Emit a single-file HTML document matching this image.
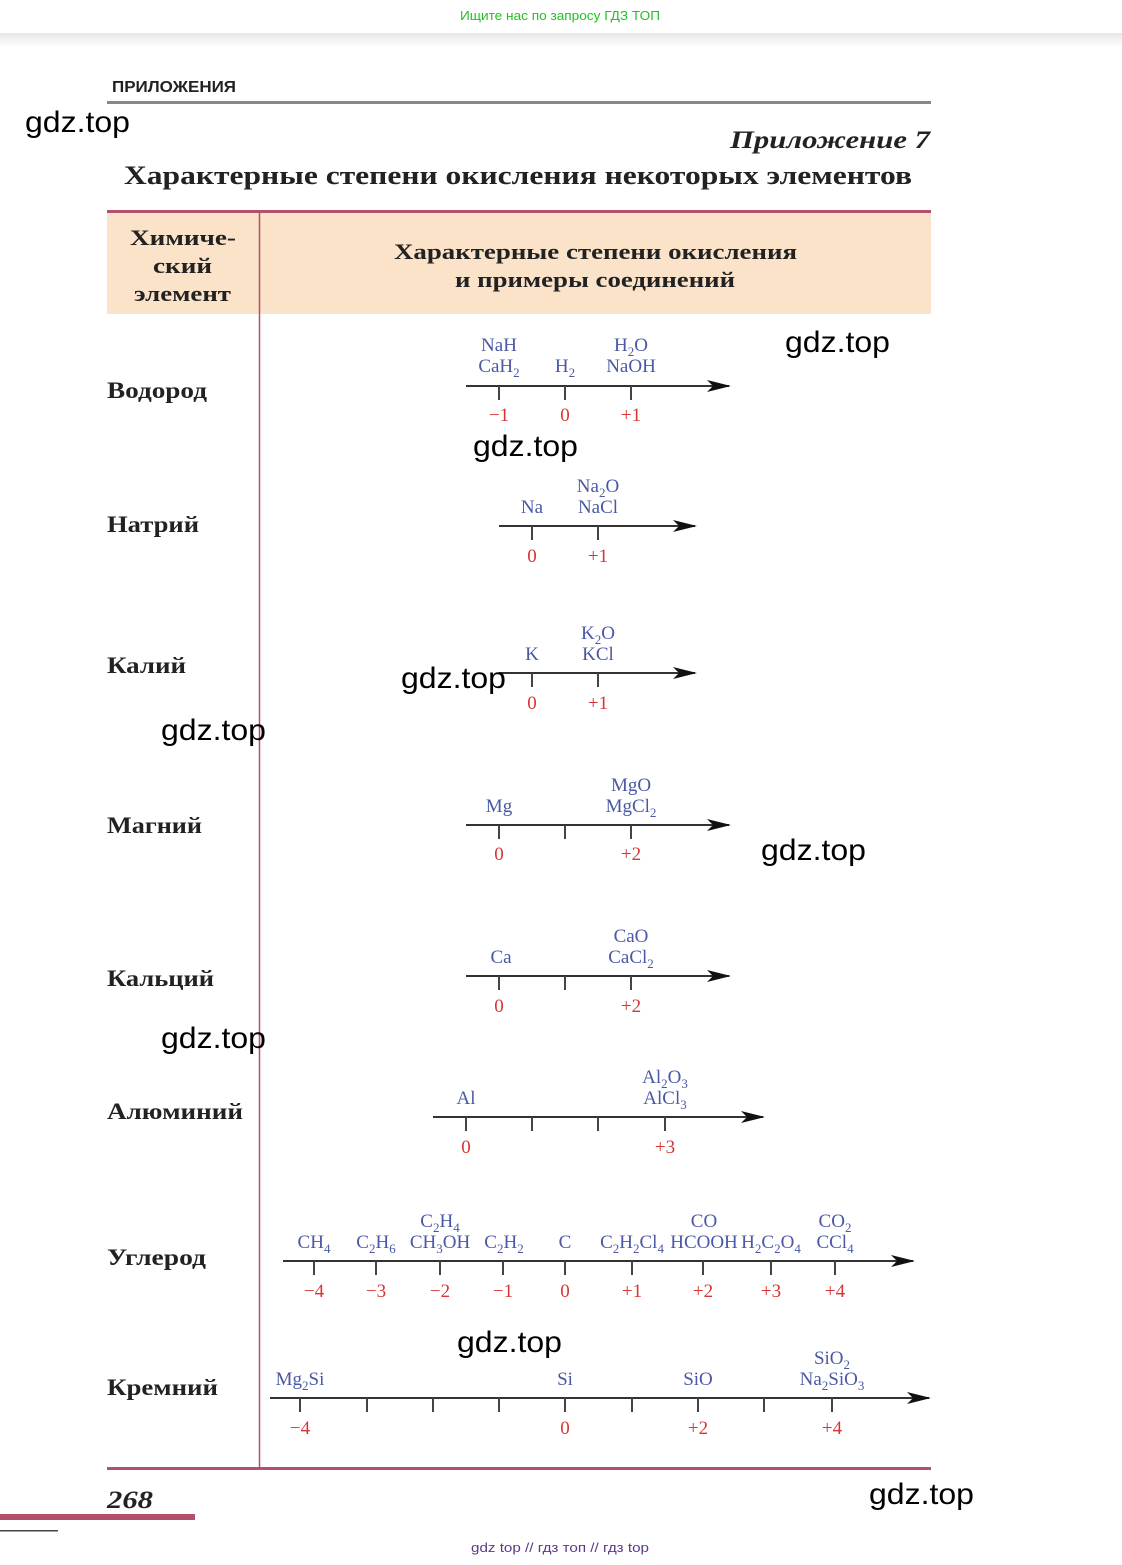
<!DOCTYPE html>
<html><head><meta charset="utf-8"><style>
html,body{margin:0;padding:0;background:#fff;}
svg{display:block;}
.s{font-family:"Liberation Serif",serif;}
.c{fill:#4a58a6;font-size:19px;text-anchor:middle;}
.n{fill:#d93434;font-size:19px;text-anchor:middle;}
.e{font-family:"Liberation Serif",serif;font-weight:bold;font-size:23px;fill:#222;}
.w{font-family:"Liberation Sans",sans-serif;font-size:30px;fill:#000;}
.ax{stroke:#333;stroke-width:2;}
.tk{stroke:#444;stroke-width:2;}
</style></head><body>
<svg width="1122" height="1565" viewBox="0 0 1122 1565" xmlns="http://www.w3.org/2000/svg">
<defs>
<linearGradient id="sh" x1="0" y1="0" x2="0" y2="1"><stop offset="0" stop-color="#e6e6e6"/><stop offset="1" stop-color="#fff"/></linearGradient>
<marker id="ar" viewBox="0 0 24 12" refX="22" refY="6" markerWidth="24" markerHeight="12" markerUnits="userSpaceOnUse" orient="auto"><path d="M0,0 L24,6 L0,12 L6,6 Z" fill="#111"/></marker>
</defs>
<rect x="0" y="33" width="1122" height="14" fill="url(#sh)"/>
<text x="460" y="20" font-family="Liberation Sans,sans-serif" font-size="13" fill="#22c022" textLength="200" lengthAdjust="spacingAndGlyphs">Ищите нас по запросу ГДЗ ТОП</text>
<text x="112" y="92" font-family="Liberation Sans,sans-serif" font-weight="bold" font-size="16" fill="#222" textLength="124" lengthAdjust="spacingAndGlyphs">ПРИЛОЖЕНИЯ</text>
<rect x="107" y="101" width="824" height="3" fill="#888"/>
<text x="730" y="148" class="s" font-weight="bold" font-style="italic" font-size="25" fill="#222" textLength="200" lengthAdjust="spacingAndGlyphs">Приложение 7</text>
<text x="124" y="184" class="s" font-weight="bold" font-size="26" fill="#222" textLength="788" lengthAdjust="spacingAndGlyphs">Характерные степени окисления некоторых элементов</text>
<rect x="107" y="213" width="824" height="101" fill="#fbe3c9"/>
<rect x="107" y="210" width="824" height="3" fill="#b5506c"/>
<line x1="259.5" y1="211" x2="259.5" y2="1468" stroke="#b5506c" stroke-width="1.5"/>
<rect x="107" y="1467" width="824" height="3" fill="#b5506c"/>
<g class="s" font-weight="bold" font-size="22" fill="#222">
<text x="130" y="245" textLength="106" lengthAdjust="spacingAndGlyphs">Химиче-</text>
<text x="153" y="273" textLength="59" lengthAdjust="spacingAndGlyphs">ский</text>
<text x="134" y="301" textLength="97" lengthAdjust="spacingAndGlyphs">элемент</text>
<text x="394" y="259" textLength="403" lengthAdjust="spacingAndGlyphs">Характерные степени окисления</text>
<text x="455" y="287" textLength="280" lengthAdjust="spacingAndGlyphs">и примеры соединений</text>
</g>
<g class="e">
<text x="107" y="398" textLength="100" lengthAdjust="spacingAndGlyphs">Водород</text>
<text x="107" y="532" textLength="92" lengthAdjust="spacingAndGlyphs">Натрий</text>
<text x="107" y="673" textLength="79" lengthAdjust="spacingAndGlyphs">Калий</text>
<text x="107" y="833" textLength="95" lengthAdjust="spacingAndGlyphs">Магний</text>
<text x="107" y="986" textLength="107" lengthAdjust="spacingAndGlyphs">Кальций</text>
<text x="107" y="1119" textLength="136" lengthAdjust="spacingAndGlyphs">Алюминий</text>
<text x="107" y="1265" textLength="99" lengthAdjust="spacingAndGlyphs">Углерод</text>
<text x="107" y="1395" textLength="111" lengthAdjust="spacingAndGlyphs">Кремний</text>
</g>
<g class="s">
<line class="ax" x1="466" y1="386" x2="729" y2="386" marker-end="url(#ar)"/>
<path class="tk" d="M499,386v14M565,386v14M631,386v14"/>
<text class="c" x="499" y="351">NaH</text><text class="c" x="499" y="372">CaH<tspan dy="5" font-size="13">2</tspan></text>
<text class="c" x="565" y="372">H<tspan dy="5" font-size="13">2</tspan></text>
<text class="c" x="631" y="351">H<tspan dy="5" font-size="13">2</tspan><tspan dy="-5">O</tspan></text><text class="c" x="631" y="372">NaOH</text>
<text class="n" x="499" y="421">−1</text><text class="n" x="565" y="421">0</text><text class="n" x="631" y="421">+1</text>
<line class="ax" x1="499" y1="526" x2="695" y2="526" marker-end="url(#ar)"/>
<path class="tk" d="M532,526v14M598,526v14"/>
<text class="c" x="532" y="513">Na</text>
<text class="c" x="598" y="492">Na<tspan dy="5" font-size="13">2</tspan><tspan dy="-5">O</tspan></text><text class="c" x="598" y="513">NaCl</text>
<text class="n" x="532" y="562">0</text><text class="n" x="598" y="562">+1</text>
<line class="ax" x1="499" y1="673" x2="695" y2="673" marker-end="url(#ar)"/>
<path class="tk" d="M532,673v14M598,673v14"/>
<text class="c" x="532" y="660">K</text>
<text class="c" x="598" y="639">K<tspan dy="5" font-size="13">2</tspan><tspan dy="-5">O</tspan></text><text class="c" x="598" y="660">KCl</text>
<text class="n" x="532" y="709">0</text><text class="n" x="598" y="709">+1</text>
<line class="ax" x1="466" y1="825" x2="729" y2="825" marker-end="url(#ar)"/>
<path class="tk" d="M499,825v14M565,825v14M631,825v14"/>
<text class="c" x="499" y="812">Mg</text>
<text class="c" x="631" y="791">MgO</text><text class="c" x="631" y="812">MgCl<tspan dy="5" font-size="13">2</tspan></text>
<text class="n" x="499" y="860">0</text><text class="n" x="631" y="860">+2</text>
<line class="ax" x1="466" y1="976" x2="729" y2="976" marker-end="url(#ar)"/>
<path class="tk" d="M499,976v14M565,976v14M631,976v14"/>
<text class="c" x="501" y="963">Ca</text>
<text class="c" x="631" y="942">CaO</text><text class="c" x="631" y="963">CaCl<tspan dy="5" font-size="13">2</tspan></text>
<text class="n" x="499" y="1012">0</text><text class="n" x="631" y="1012">+2</text>
<line class="ax" x1="433" y1="1117" x2="763" y2="1117" marker-end="url(#ar)"/>
<path class="tk" d="M466,1117v14M532,1117v14M598,1117v14M665,1117v14"/>
<text class="c" x="466" y="1104">Al</text>
<text class="c" x="665" y="1083">Al<tspan dy="5" font-size="13">2</tspan><tspan dy="-5">O</tspan><tspan dy="5" font-size="13">3</tspan></text>
<text class="c" x="665" y="1104">AlCl<tspan dy="5" font-size="13">3</tspan></text>
<text class="n" x="466" y="1153">0</text><text class="n" x="665" y="1153">+3</text>
<line class="ax" x1="283" y1="1261" x2="913" y2="1261" marker-end="url(#ar)"/>
<path class="tk" d="M314,1261v14M376,1261v14M440,1261v14M503,1261v14M565,1261v14M632,1261v14M703,1261v14M771,1261v14M835,1261v14"/>
<text class="c" x="314" y="1248">CH<tspan dy="5" font-size="13">4</tspan></text>
<text class="c" x="376" y="1248">C<tspan dy="5" font-size="13">2</tspan><tspan dy="-5">H</tspan><tspan dy="5" font-size="13">6</tspan></text>
<text class="c" x="440" y="1227">C<tspan dy="5" font-size="13">2</tspan><tspan dy="-5">H</tspan><tspan dy="5" font-size="13">4</tspan></text>
<text class="c" x="440" y="1248">CH<tspan dy="5" font-size="13">3</tspan><tspan dy="-5">OH</tspan></text>
<text class="c" x="504" y="1248">C<tspan dy="5" font-size="13">2</tspan><tspan dy="-5">H</tspan><tspan dy="5" font-size="13">2</tspan></text>
<text class="c" x="565" y="1248">C</text>
<text class="c" x="632" y="1248">C<tspan dy="5" font-size="13">2</tspan><tspan dy="-5">H</tspan><tspan dy="5" font-size="13">2</tspan><tspan dy="-5">Cl</tspan><tspan dy="5" font-size="13">4</tspan></text>
<text class="c" x="704" y="1227">CO</text><text class="c" x="704" y="1248">HCOOH</text>
<text class="c" x="771" y="1248">H<tspan dy="5" font-size="13">2</tspan><tspan dy="-5">C</tspan><tspan dy="5" font-size="13">2</tspan><tspan dy="-5">O</tspan><tspan dy="5" font-size="13">4</tspan></text>
<text class="c" x="835" y="1227">CO<tspan dy="5" font-size="13">2</tspan></text><text class="c" x="835" y="1248">CCl<tspan dy="5" font-size="13">4</tspan></text>
<text class="n" x="314" y="1297">−4</text><text class="n" x="376" y="1297">−3</text><text class="n" x="440" y="1297">−2</text><text class="n" x="503" y="1297">−1</text><text class="n" x="565" y="1297">0</text><text class="n" x="632" y="1297">+1</text><text class="n" x="703" y="1297">+2</text><text class="n" x="771" y="1297">+3</text><text class="n" x="835" y="1297">+4</text>
<line class="ax" x1="270" y1="1398" x2="929" y2="1398" marker-end="url(#ar)"/>
<path class="tk" d="M300,1398v14M367,1398v14M433,1398v14M499,1398v14M565,1398v14M632,1398v14M698,1398v14M764,1398v14M832,1398v14"/>
<text class="c" x="300" y="1385">Mg<tspan dy="5" font-size="13">2</tspan><tspan dy="-5">Si</tspan></text>
<text class="c" x="565" y="1385">Si</text>
<text class="c" x="698" y="1385">SiO</text>
<text class="c" x="832" y="1364">SiO<tspan dy="5" font-size="13">2</tspan></text>
<text class="c" x="832" y="1385">Na<tspan dy="5" font-size="13">2</tspan><tspan dy="-5">SiO</tspan><tspan dy="5" font-size="13">3</tspan></text>
<text class="n" x="300" y="1434">−4</text><text class="n" x="565" y="1434">0</text><text class="n" x="698" y="1434">+2</text><text class="n" x="832" y="1434">+4</text>
</g>
<text x="107" y="1508" class="s" font-weight="bold" font-style="italic" font-size="25" fill="#222" textLength="46" lengthAdjust="spacingAndGlyphs">268</text>
<rect x="0" y="1514" width="195" height="6" fill="#b5506c"/>
<rect x="0" y="1530" width="58" height="1.5" fill="#444"/>
<text x="471" y="1552" font-family="Liberation Sans,sans-serif" font-size="13" fill="#5a3a8a" textLength="178" lengthAdjust="spacingAndGlyphs">gdz top  //  гдз топ  //  гдз top</text>
<g class="w">
<text x="25" y="132" textLength="105" lengthAdjust="spacingAndGlyphs">gdz.top</text>
<text x="785" y="352" textLength="105" lengthAdjust="spacingAndGlyphs">gdz.top</text>
<text x="473" y="456" textLength="105" lengthAdjust="spacingAndGlyphs">gdz.top</text>
<text x="401" y="688" textLength="105" lengthAdjust="spacingAndGlyphs">gdz.top</text>
<text x="161" y="740" textLength="105" lengthAdjust="spacingAndGlyphs">gdz.top</text>
<text x="761" y="860" textLength="105" lengthAdjust="spacingAndGlyphs">gdz.top</text>
<text x="161" y="1048" textLength="105" lengthAdjust="spacingAndGlyphs">gdz.top</text>
<text x="457" y="1352" textLength="105" lengthAdjust="spacingAndGlyphs">gdz.top</text>
<text x="869" y="1504" textLength="105" lengthAdjust="spacingAndGlyphs">gdz.top</text>
</g>
</svg>
</body></html>
